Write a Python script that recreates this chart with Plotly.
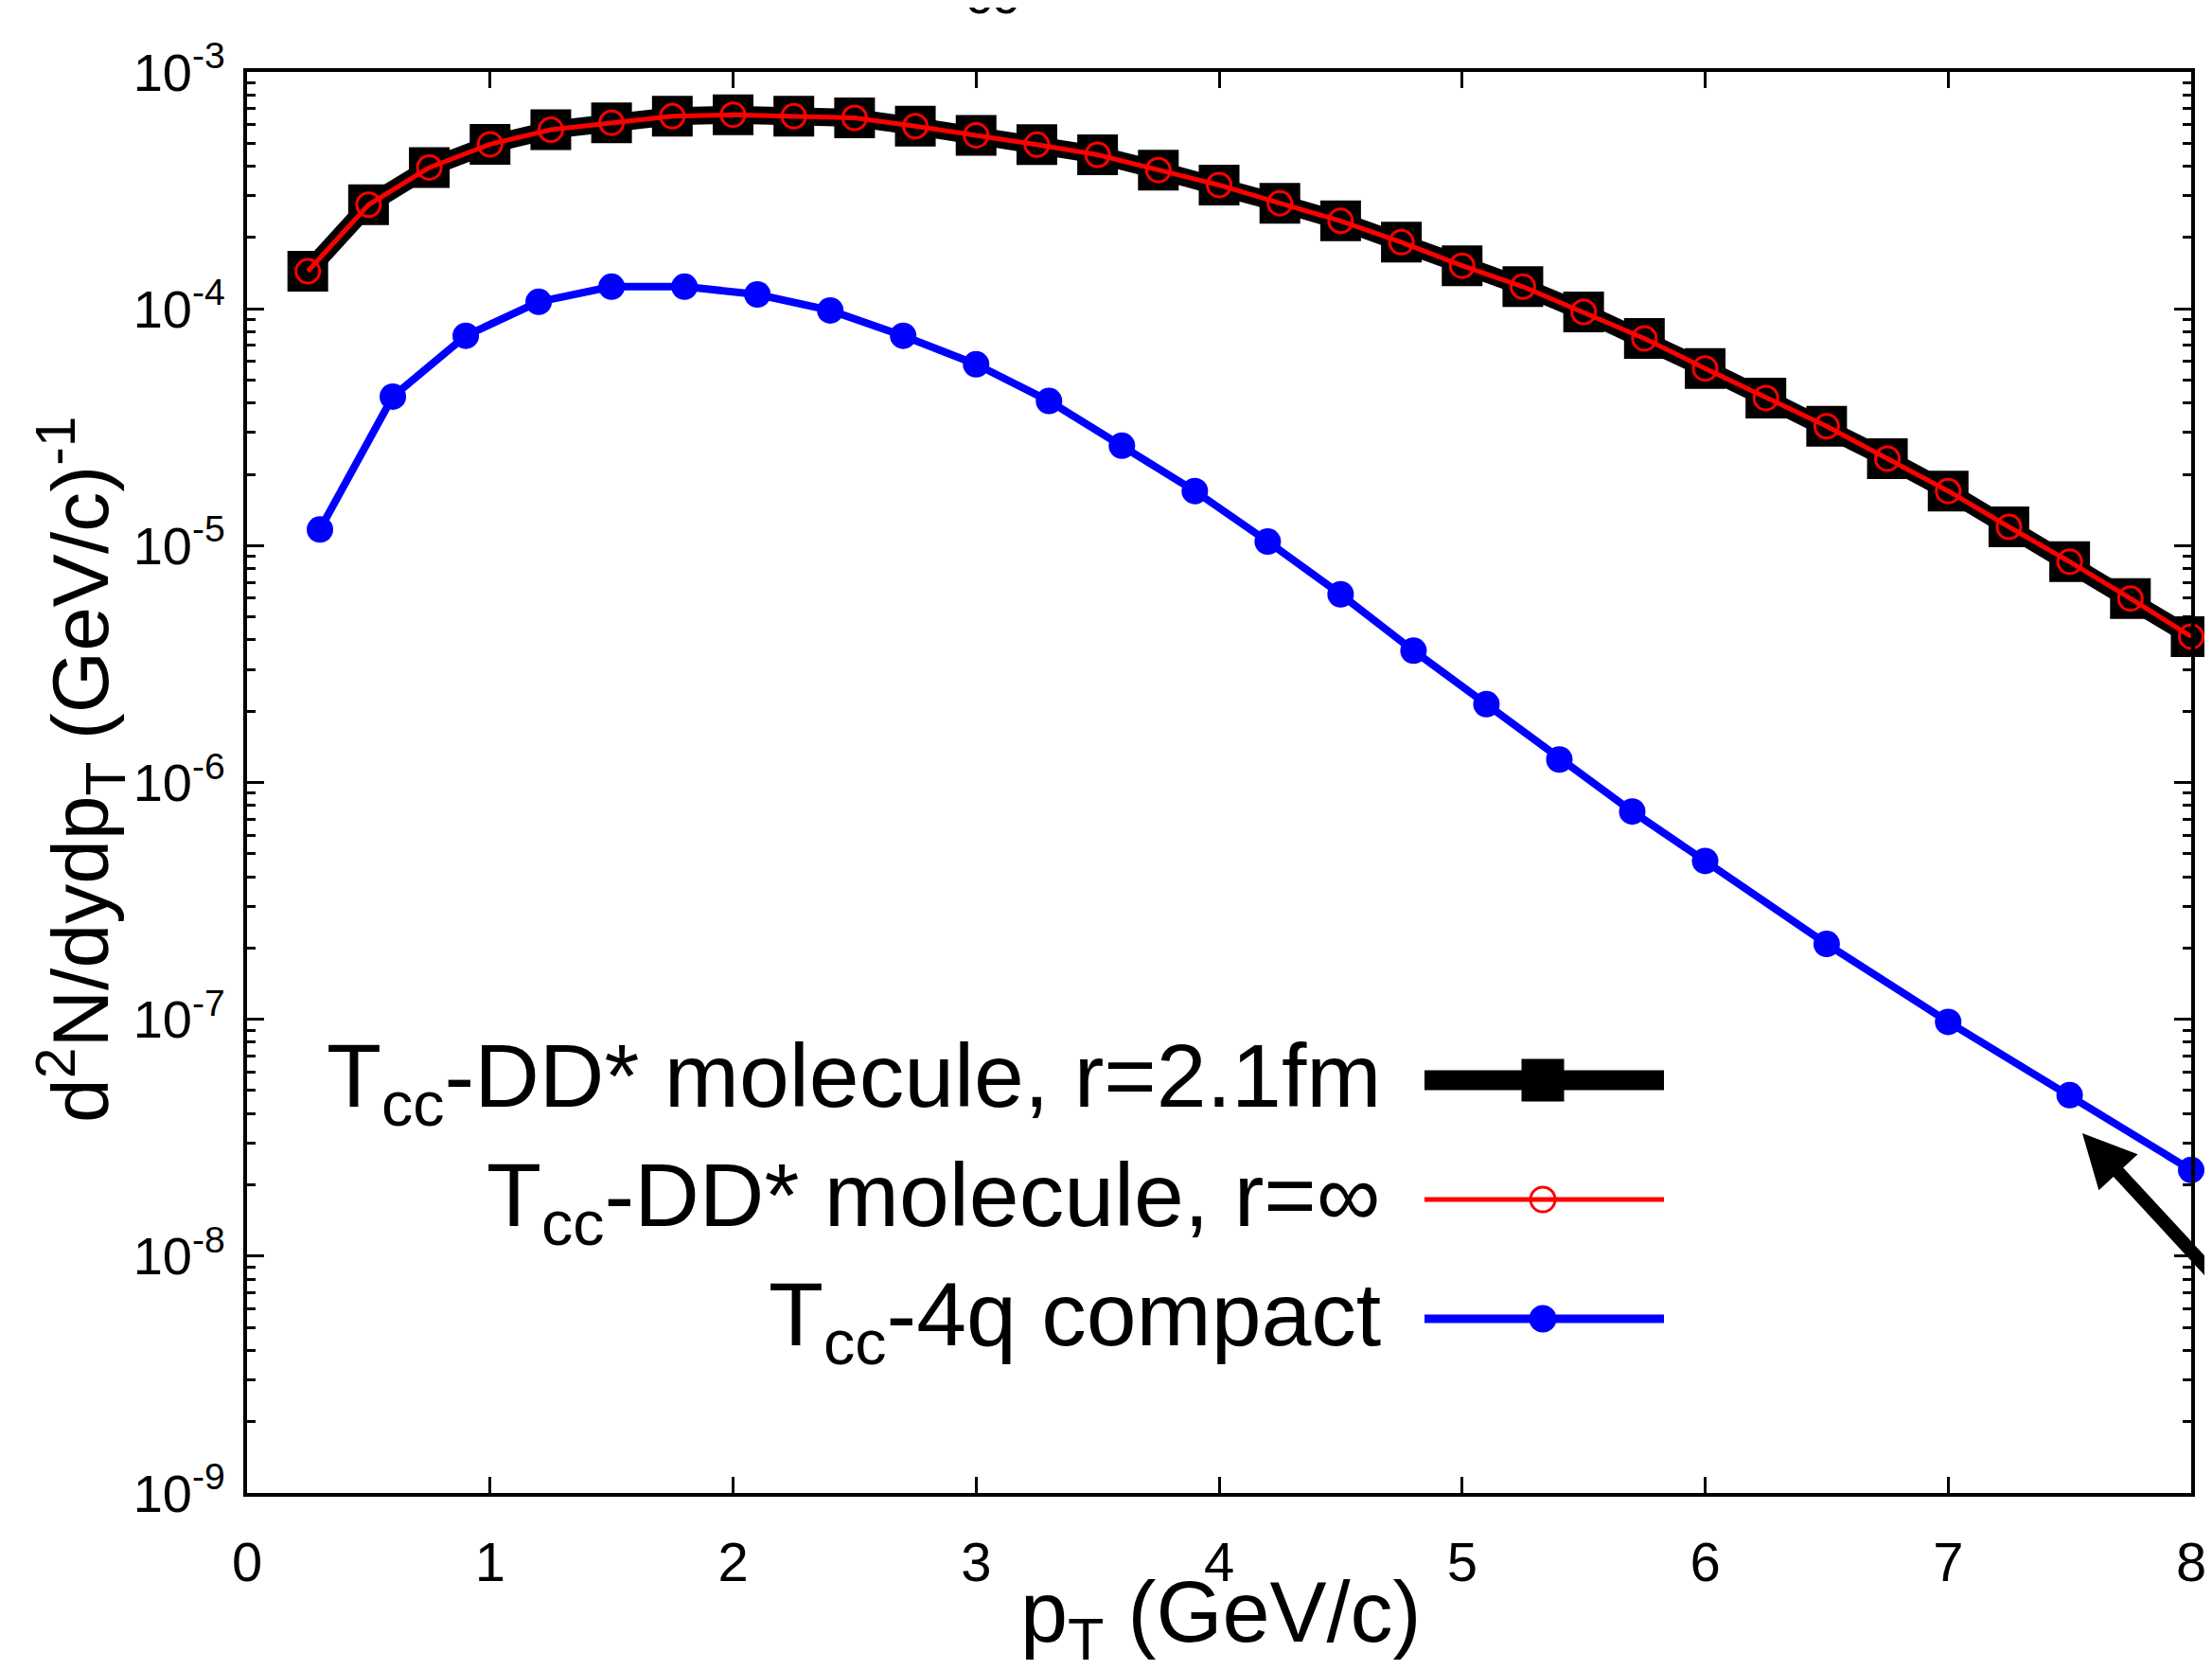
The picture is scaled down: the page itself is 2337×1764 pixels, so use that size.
import plotly.graph_objects as go

# ---------------- data ----------------
pt_mol = [0.25, 0.5, 0.75, 1.0, 1.25, 1.5, 1.75, 2.0, 2.25, 2.5, 2.75, 3.0,
          3.25, 3.5, 3.75, 4.0, 4.25, 4.5, 4.75, 5.0, 5.25, 5.5, 5.75, 6.0,
          6.25, 6.5, 6.75, 7.0, 7.25, 7.5, 7.75, 8.0]
mol_r21 = [1.44e-4, 2.75e-4, 3.95e-4, 4.95e-4, 5.7e-4, 6.1e-4, 6.5e-4, 6.6e-4,
           6.5e-4, 6.4e-4, 5.9e-4, 5.4e-4, 4.93e-4, 4.47e-4, 3.85e-4, 3.33e-4,
           2.79e-4, 2.35e-4, 1.91e-4, 1.52e-4, 1.24e-4, 9.7e-5, 7.5e-5, 5.6e-5,
           4.2e-5, 3.19e-5, 2.33e-5, 1.70e-5, 1.2e-5, 8.55e-6, 5.98e-6, 4.13e-6]
mol_rinf = [1.44e-4, 2.75e-4, 3.95e-4, 4.95e-4, 5.7e-4, 6.1e-4, 6.5e-4, 6.6e-4,
            6.5e-4, 6.4e-4, 5.9e-4, 5.4e-4, 4.93e-4, 4.47e-4, 3.85e-4, 3.33e-4,
            2.79e-4, 2.35e-4, 1.91e-4, 1.52e-4, 1.24e-4, 9.7e-5, 7.5e-5, 5.6e-5,
            4.2e-5, 3.19e-5, 2.33e-5, 1.70e-5, 1.2e-5, 8.55e-6, 5.98e-6, 4.13e-6]
pt_4q = [0.3, 0.6, 0.9, 1.2, 1.5, 1.8, 2.1, 2.4, 2.7, 3.0, 3.3, 3.6, 3.9, 4.2,
         4.5, 4.8, 5.1, 5.4, 5.7, 6.0, 6.5, 7.0, 7.5, 8.0]
compact_4q = [1.17e-5, 4.26e-5, 7.69e-5, 1.07e-4, 1.24e-4, 1.24e-4, 1.15e-4,
              9.84e-5, 7.69e-5, 5.83e-5, 4.08e-5, 2.64e-5, 1.70e-5, 1.04e-5,
              6.23e-6, 3.60e-6, 2.14e-6, 1.25e-6, 7.54e-7, 4.66e-7, 2.08e-7,
              9.75e-8, 4.78e-8, 2.31e-8]

series_names = ["T<sub>cc</sub>-DD* molecule, r=2.1fm",
                "T<sub>cc</sub>-DD* molecule, r=\u221e",
                "T<sub>cc</sub>-4q compact"]
x_ticks = [0, 1, 2, 3, 4, 5, 6, 7, 8]
y_tickvals = [1e-9, 1e-8, 1e-7, 1e-6, 1e-5, 1e-4, 1e-3]
y_ticktext = ["10<sup>-9</sup>", "10<sup>-8</sup>", "10<sup>-7</sup>", "10<sup>-6</sup>",
              "10<sup>-5</sup>", "10<sup>-4</sup>", "10<sup>-3</sup>"]

# ---------------- layout constants ----------------
W, H = 2337, 1764
L, R, T, B = 253, 30, 68, 195
PW, PH = W - L - R, H - T - B
FONT = "Liberation Sans, Arial, Helvetica"


def px(xp):
    return (xp - L) / PW


def py(yp):
    return (H - B - yp) / PH


fig = go.Figure()

fig.add_trace(go.Scatter(
    x=pt_mol, y=mol_r21, mode="lines+markers", name=series_names[0],
    line=dict(color="black", width=19),
    marker=dict(symbol="square", size=38, color="black", line=dict(color="black", width=5)),
    cliponaxis=False, showlegend=False))
fig.add_trace(go.Scatter(
    x=pt_mol, y=mol_rinf, mode="lines+markers", name=series_names[1],
    line=dict(color="#ff0000", width=5),
    marker=dict(symbol="circle-open", size=25, color="#ff0000", line=dict(color="#ff0000", width=3)),
    cliponaxis=False, showlegend=False))
fig.add_trace(go.Scatter(
    x=pt_4q, y=compact_4q, mode="lines+markers", name=series_names[2],
    line=dict(color="#0000ff", width=8),
    marker=dict(symbol="circle", size=28, color="#0000ff"),
    cliponaxis=False, showlegend=False))

# invisible trace that anchors the right-hand mirrored log axis
fig.add_trace(go.Scatter(x=[], y=[], yaxis="y3", showlegend=False, hoverinfo="skip"))

# ---------------- manual legend (text on left, sample on right) ----------------
leg_rows = [1133, 1259, 1385]
leg_x0, leg_x1, leg_xm = px(1497), px(1750), px(1622)
styles = [
    dict(line=dict(color="black", width=21),
         marker=dict(symbol="square", size=40, color="black", line=dict(color="black", width=5))),
    dict(line=dict(color="#ff0000", width=5),
         marker=dict(symbol="circle-open", size=26, color="#ff0000", line=dict(color="#ff0000", width=3))),
    dict(line=dict(color="#0000ff", width=9),
         marker=dict(symbol="circle", size=29, color="#0000ff")),
]
for i, yr in enumerate(leg_rows):
    fig.add_trace(go.Scatter(x=[leg_x0, leg_x1], y=[py(yr), py(yr)], mode="lines",
                             line=styles[i]["line"], xaxis="x2", yaxis="y2",
                             cliponaxis=False, showlegend=False, hoverinfo="skip"))
    fig.add_trace(go.Scatter(x=[leg_xm], y=[py(yr)], mode="markers",
                             marker=styles[i]["marker"], xaxis="x2", yaxis="y2",
                             cliponaxis=False, showlegend=False, hoverinfo="skip"))
    fig.add_annotation(xref="paper", yref="paper", x=px(1453), y=py(yr),
                       xanchor="right", yanchor="middle", yshift=-2,
                       text=series_names[i], showarrow=False,
                       font=dict(family=FONT, size=95, color="black"))

# axis titles
fig.add_annotation(xref="paper", yref="paper", x=px(1282), y=py(1701),
                   xanchor="center", yanchor="middle",
                   text="p<sub>T</sub> (GeV/c)", showarrow=False,
                   font=dict(family=FONT, size=90, color="black"))
fig.add_annotation(xref="paper", yref="paper", x=px(77), y=py(805),
                   xanchor="center", yanchor="middle", textangle=-90,
                   text="d<sup>2</sup>N/dydp<sub>T</sub> (GeV/c)<sup>-1</sup>", showarrow=False,
                   font=dict(family=FONT, size=84, color="black"))

# cut-off title at the very top (only the bottom of its subscript is visible)
fig.add_annotation(xref="paper", yref="paper", x=px(1070), y=1.0,
                   xanchor="right", yanchor="bottom", yshift=48,
                   text="T<sub>cc</sub>", showarrow=False,
                   font=dict(family=FONT, size=80, color="black"))

# arrow (tail leaves the picture at its right edge)
fig.add_annotation(x=7.552, y=-7.481, xref="x", yref="y", text="",
                   showarrow=True, arrowhead=2, arrowsize=0.8, arrowwidth=14,
                   arrowcolor="black", ax=150, ay=157, axref="pixel", ayref="pixel")

axis_common = dict(showline=True, linecolor="black", linewidth=4, mirror="ticks",
                   ticks="inside", tickcolor="black", tickwidth=3, showgrid=False,
                   zeroline=False)
minor_y = dict(ticks="inside", ticklen=9, tickwidth=3, tickcolor="black",
               dtick="D1", showgrid=False)

fig.update_layout(
    width=W, height=H,
    margin=dict(l=L, r=R, t=T, b=B),
    paper_bgcolor="white", plot_bgcolor="white",
    showlegend=False,
    xaxis=dict(range=[0, 8], tickvals=x_ticks, ticklen=17,
               tickfont=dict(family=FONT, size=58, color="black"),
               ticklabelstandoff=19, **axis_common),
    yaxis=dict(type="log", range=[-9, -3], tickvals=y_tickvals, ticktext=y_ticktext,
               ticklen=18, tickfont=dict(family=FONT, size=56, color="black"),
               ticklabelstandoff=8, minor=minor_y, **axis_common),
    yaxis3=dict(type="log", range=[-9, -3], overlaying="y", side="right",
                tickvals=y_tickvals, showticklabels=False, ticks="inside",
                ticklen=18, tickwidth=3, tickcolor="black", showgrid=False,
                zeroline=False, showline=False, minor=minor_y),
    xaxis2=dict(overlaying="x", range=[0, 1], visible=False, fixedrange=True),
    yaxis2=dict(overlaying="y", range=[0, 1], visible=False, fixedrange=True),
)

fig.write_html("out.html")
